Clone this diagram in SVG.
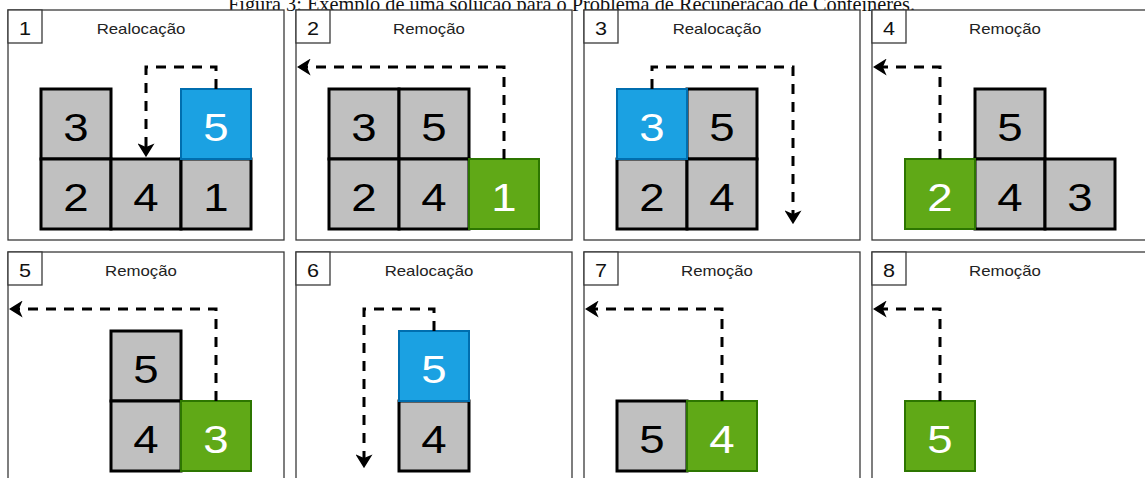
<svg xmlns="http://www.w3.org/2000/svg" width="1145" height="478" viewBox="0 0 1145 478">
  <style>
    .panel { fill: #ffffff; stroke: #3a3a3a; stroke-width: 1.3; }
    .tag { fill: #ffffff; stroke: #3a3a3a; stroke-width: 1.3; }
    .tagtxt { font-family: "Liberation Sans", Arial, sans-serif; font-size: 18px; fill: #111; text-anchor: middle; }
    .title { font-family: "Liberation Sans", Arial, sans-serif; font-size: 14px; fill: #222; text-anchor: middle; }
    .gray { fill: #c0c0c0; stroke: #000000; stroke-width: 3; }
    .blue { fill: #1ba1e2; stroke: #006eaf; stroke-width: 2; }
    .green { fill: #60a917; stroke: #2d7600; stroke-width: 2; }
    .d { font-family: "Liberation Sans", Arial, sans-serif; font-size: 38px; text-anchor: middle; fill: #000; }
    .w { fill: #ffffff; }
    .move { fill: none; stroke: #000; stroke-width: 3; stroke-dasharray: 10 8; marker-end: url(#head); }
    .caption { font-family: "Liberation Serif", "Times New Roman", serif; font-size: 22px; fill: #111; }
  </style>
  <defs>
    <marker id="head" markerUnits="userSpaceOnUse" viewBox="0 0 13 16" refX="10" refY="8" markerWidth="14" markerHeight="17" orient="auto">
      <path d="M0,0 L13,8 L0,16 L3.5,8 Z" fill="#000"/>
    </marker>
  </defs>

  <rect width="1145" height="478" fill="#ffffff"/>

  <text class="caption" x="228" y="11" textLength="687" lengthAdjust="spacingAndGlyphs">Figura 3: Exemplo de uma solução para o Problema de Recuperação de Contêineres.</text>

  <!-- Step 1 -->
  <g id="step1">
    <rect class="panel" x="8" y="10" width="276" height="230"/>
    <rect class="tag" x="8" y="10" width="34" height="33"/>
    <text class="tagtxt" transform="matrix(1.2 0 0 1 25 35)">1</text>
    <text class="title" transform="matrix(1.2 0 0 1 141 34)">Realocação</text>
    <g id="s1-c3"><rect class="gray" x="41" y="89" width="70" height="70"/><text class="d" transform="matrix(1.2 0 0 1 76 141)">3</text></g>
    <g id="s1-c2"><rect class="gray" x="41" y="159" width="70" height="70"/><text class="d" transform="matrix(1.2 0 0 1 76 211)">2</text></g>
    <g id="s1-c4"><rect class="gray" x="111" y="159" width="70" height="70"/><text class="d" transform="matrix(1.2 0 0 1 146 211)">4</text></g>
    <g id="s1-c1"><rect class="gray" x="181" y="159" width="70" height="70"/><text class="d" transform="matrix(1.2 0 0 1 216 211)">1</text></g>
    <g id="s1-c5"><rect class="blue" x="181" y="89" width="70" height="70"/><text class="d w" transform="matrix(1.2 0 0 1 216 141)">5</text></g>
  </g>

  <!-- Step 2 -->
  <g id="step2">
    <rect class="panel" x="296" y="10" width="276" height="230"/>
    <rect class="tag" x="296" y="10" width="34" height="33"/>
    <text class="tagtxt" transform="matrix(1.2 0 0 1 313 35)">2</text>
    <text class="title" transform="matrix(1.2 0 0 1 429 34)">Remoção</text>
    <g id="s2-c3"><rect class="gray" x="329" y="89" width="70" height="70"/><text class="d" transform="matrix(1.2 0 0 1 364 141)">3</text></g>
    <g id="s2-c5"><rect class="gray" x="399" y="89" width="70" height="70"/><text class="d" transform="matrix(1.2 0 0 1 434 141)">5</text></g>
    <g id="s2-c2"><rect class="gray" x="329" y="159" width="70" height="70"/><text class="d" transform="matrix(1.2 0 0 1 364 211)">2</text></g>
    <g id="s2-c4"><rect class="gray" x="399" y="159" width="70" height="70"/><text class="d" transform="matrix(1.2 0 0 1 434 211)">4</text></g>
    <g id="s2-c1"><rect class="green" x="469" y="159" width="70" height="70"/><text class="d w" transform="matrix(1.2 0 0 1 504 211)">1</text></g>
  </g>

  <!-- Step 3 -->
  <g id="step3">
    <rect class="panel" x="584" y="10" width="276" height="230"/>
    <rect class="tag" x="584" y="10" width="34" height="33"/>
    <text class="tagtxt" transform="matrix(1.2 0 0 1 601 35)">3</text>
    <text class="title" transform="matrix(1.2 0 0 1 717 34)">Realocação</text>
    <g id="s3-c5"><rect class="gray" x="687" y="89" width="70" height="70"/><text class="d" transform="matrix(1.2 0 0 1 722 141)">5</text></g>
    <g id="s3-c2"><rect class="gray" x="617" y="159" width="70" height="70"/><text class="d" transform="matrix(1.2 0 0 1 652 211)">2</text></g>
    <g id="s3-c4"><rect class="gray" x="687" y="159" width="70" height="70"/><text class="d" transform="matrix(1.2 0 0 1 722 211)">4</text></g>
    <g id="s3-c3"><rect class="blue" x="617" y="89" width="70" height="70"/><text class="d w" transform="matrix(1.2 0 0 1 652 141)">3</text></g>
  </g>

  <!-- Step 4 -->
  <g id="step4">
    <rect class="panel" x="872" y="10" width="276" height="230"/>
    <rect class="tag" x="872" y="10" width="34" height="33"/>
    <text class="tagtxt" transform="matrix(1.2 0 0 1 889 35)">4</text>
    <text class="title" transform="matrix(1.2 0 0 1 1005 34)">Remoção</text>
    <g id="s4-c5"><rect class="gray" x="975" y="89" width="70" height="70"/><text class="d" transform="matrix(1.2 0 0 1 1010 141)">5</text></g>
    <g id="s4-c4"><rect class="gray" x="975" y="159" width="70" height="70"/><text class="d" transform="matrix(1.2 0 0 1 1010 211)">4</text></g>
    <g id="s4-c3"><rect class="gray" x="1045" y="159" width="70" height="70"/><text class="d" transform="matrix(1.2 0 0 1 1080 211)">3</text></g>
    <g id="s4-c2"><rect class="green" x="905" y="159" width="70" height="70"/><text class="d w" transform="matrix(1.2 0 0 1 940 211)">2</text></g>
  </g>

  <!-- Step 5 -->
  <g id="step5">
    <rect class="panel" x="8" y="252" width="276" height="230"/>
    <rect class="tag" x="8" y="252" width="34" height="33"/>
    <text class="tagtxt" transform="matrix(1.2 0 0 1 25 277)">5</text>
    <text class="title" transform="matrix(1.2 0 0 1 141 276)">Remoção</text>
    <g id="s5-c5"><rect class="gray" x="111" y="331" width="70" height="70"/><text class="d" transform="matrix(1.2 0 0 1 146 383)">5</text></g>
    <g id="s5-c4"><rect class="gray" x="111" y="401" width="70" height="70"/><text class="d" transform="matrix(1.2 0 0 1 146 453)">4</text></g>
    <g id="s5-c3"><rect class="green" x="181" y="401" width="70" height="70"/><text class="d w" transform="matrix(1.2 0 0 1 216 453)">3</text></g>
  </g>

  <!-- Step 6 -->
  <g id="step6">
    <rect class="panel" x="296" y="252" width="276" height="230"/>
    <rect class="tag" x="296" y="252" width="34" height="33"/>
    <text class="tagtxt" transform="matrix(1.2 0 0 1 313 277)">6</text>
    <text class="title" transform="matrix(1.2 0 0 1 429 276)">Realocação</text>
    <g id="s6-c4"><rect class="gray" x="399" y="401" width="70" height="70"/><text class="d" transform="matrix(1.2 0 0 1 434 453)">4</text></g>
    <g id="s6-c5"><rect class="blue" x="399" y="331" width="70" height="70"/><text class="d w" transform="matrix(1.2 0 0 1 434 383)">5</text></g>
  </g>

  <!-- Step 7 -->
  <g id="step7">
    <rect class="panel" x="584" y="252" width="276" height="230"/>
    <rect class="tag" x="584" y="252" width="34" height="33"/>
    <text class="tagtxt" transform="matrix(1.2 0 0 1 601 277)">7</text>
    <text class="title" transform="matrix(1.2 0 0 1 717 276)">Remoção</text>
    <g id="s7-c5"><rect class="gray" x="617" y="401" width="70" height="70"/><text class="d" transform="matrix(1.2 0 0 1 652 453)">5</text></g>
    <g id="s7-c4"><rect class="green" x="687" y="401" width="70" height="70"/><text class="d w" transform="matrix(1.2 0 0 1 722 453)">4</text></g>
  </g>

  <!-- Step 8 -->
  <g id="step8">
    <rect class="panel" x="872" y="252" width="276" height="230"/>
    <rect class="tag" x="872" y="252" width="34" height="33"/>
    <text class="tagtxt" transform="matrix(1.2 0 0 1 889 277)">8</text>
    <text class="title" transform="matrix(1.2 0 0 1 1005 276)">Remoção</text>
    <g id="s8-c5"><rect class="green" x="905" y="401" width="70" height="70"/><text class="d w" transform="matrix(1.2 0 0 1 940 453)">5</text></g>
  </g>

  <!-- Container moves -->
  <g id="moves">
    <path class="move" d="M216,89 V67 H146 V154"/>
    <path class="move" d="M504,159 V67 H300"/>
    <path class="move" d="M652,89 V67 H793 V221"/>
    <path class="move" d="M940,159 V67 H876"/>
    <path class="move" d="M216,401 V309 H12"/>
    <path class="move" d="M434,331 V309 H364 V465"/>
    <path class="move" d="M722,401 V309 H588"/>
    <path class="move" d="M940,401 V309 H876"/>
  </g>
</svg>
